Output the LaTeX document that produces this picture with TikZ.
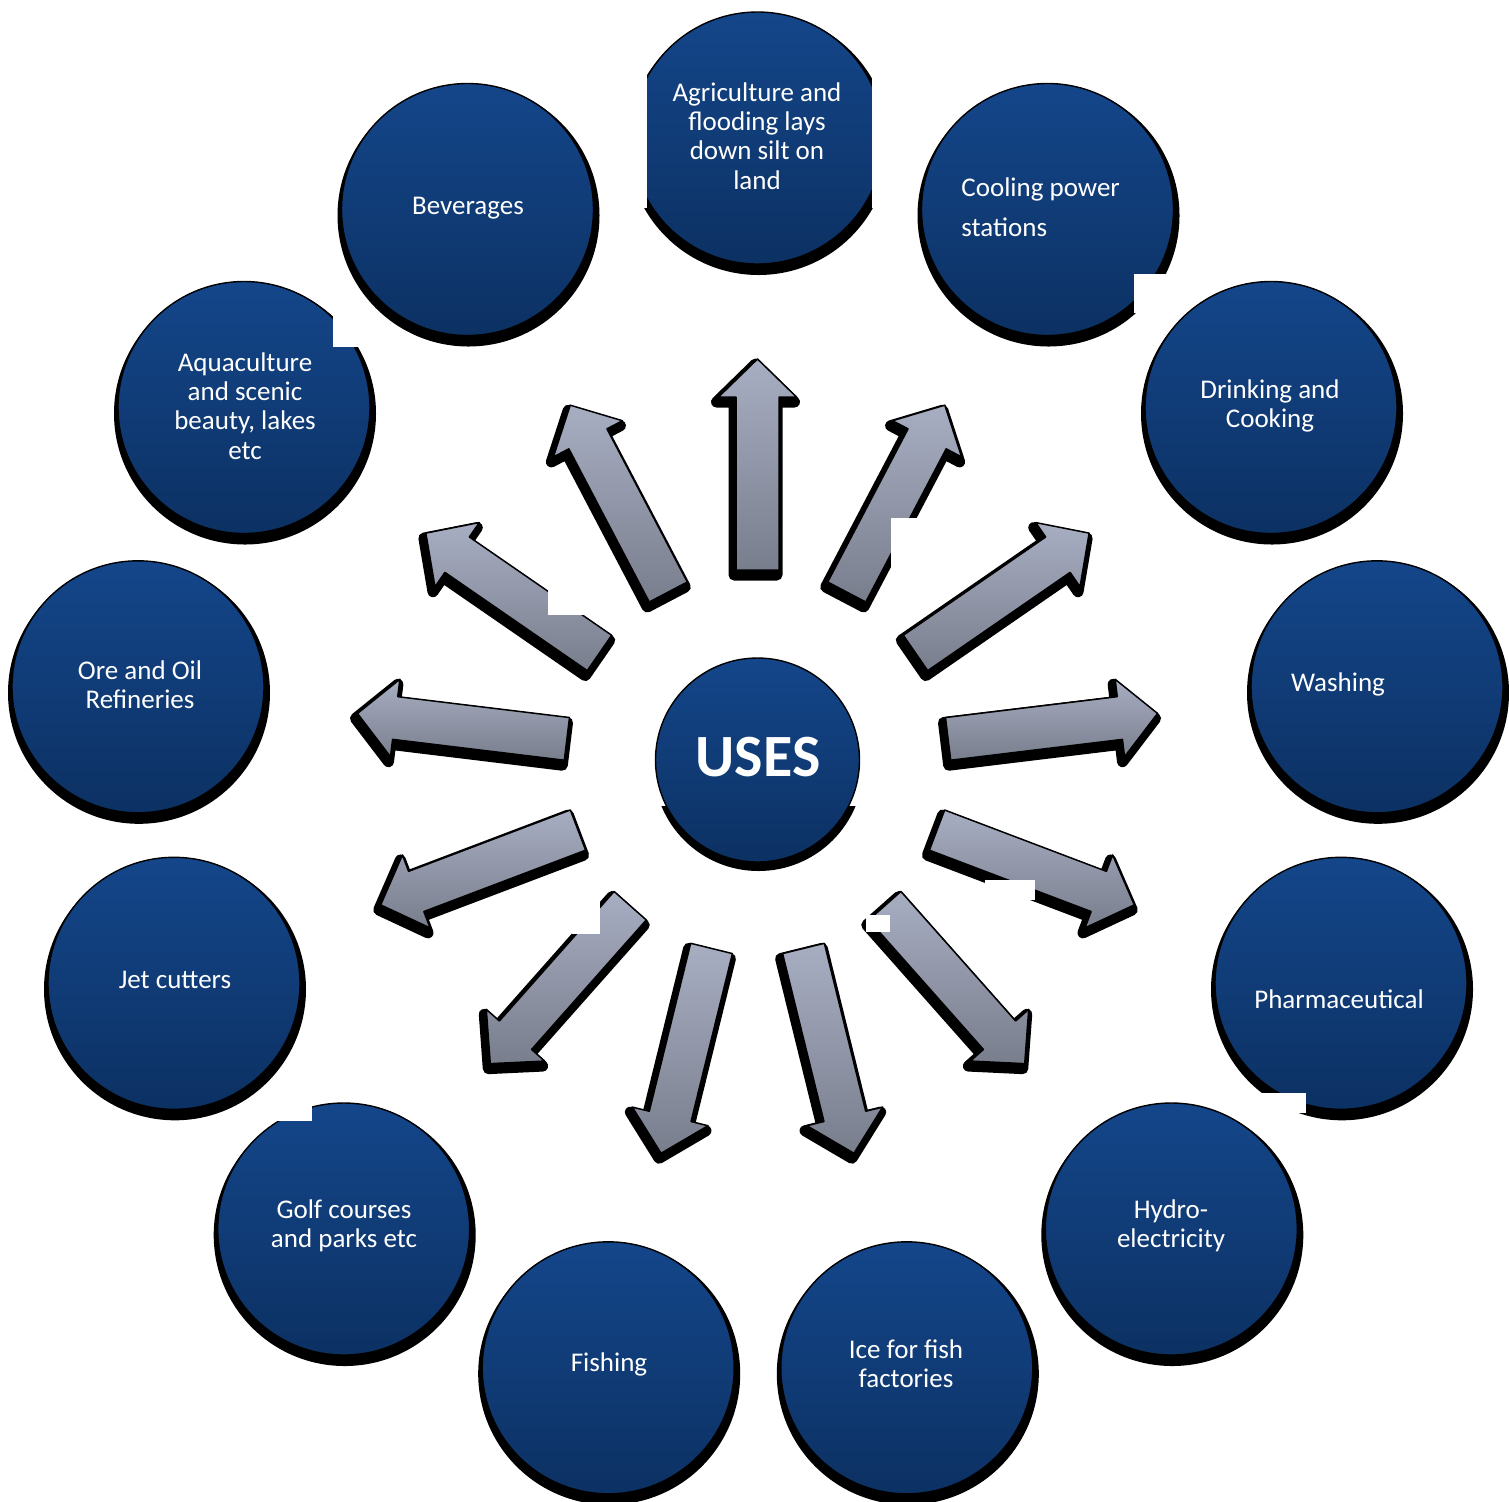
\documentclass[tikz,border=0pt]{standalone}
\usepackage{fontspec}
\setmainfont{Carlito}
\definecolor{cTop}{RGB}{20,70,138}
\definecolor{cBot}{RGB}{12,49,99}
\definecolor{aTop}{RGB}{168,174,194}
\definecolor{aBot}{RGB}{121,126,141}
\tikzset{
  bub/.style={circle, inner sep=0pt, minimum size=126pt, top color=cTop, bottom color=cBot, draw=black, line width=0.7pt},
  hub/.style={bub, minimum size=102pt},
  bubshadow/.style={fill=black},
  lbl/.style={text=white, font=\fontsize{13.5}{14.6}\selectfont, align=center, inner sep=0pt},
  hublbl/.style={text=white, font=\fontsize{30}{36}\selectfont\bfseries, inner sep=0pt},
  arrowshade/.style={top color=aTop, bottom color=aBot, draw=black, line width=0.75pt, line join=round},
  arrowshadow/.style={fill=black, draw=black, line width=5.5pt, line join=round},
  patch/.style={fill=white, draw=none},
}
\begin{document}
\begin{tikzpicture}[x=0.5pt, y=-0.5pt]
\useasboundingbox (0,0) rectangle (1509,1501);
% circle shadows
\foreach \x/\y in {757.5/138, 1047.5/209.5, 1271/407.5, 1377/686.8, 1341/983.3, 1171.3/1229, 906.8/1367.8, 608.2/1367.8, 343.7/1229, 174/983.3, 138/686.8, 244/407.5, 467.5/209.5}
  {\fill[bubshadow] (\x+1,\y+6) circle[radius=131];}
\fill[bubshadow] (758.5,766) circle[radius=105];
\fill[patch] (640,692) rectangle (880,806);
% circles
\node[hub] (uses) at (757.5,760) {};
\node[bub] (agri) at (757.5,138) {};
\node[bub] (cool) at (1047.5,209.5) {};
\node[bub] (drink) at (1271,407.5) {};
\node[bub] (wash) at (1377,686.8) {};
\node[bub] (pharma) at (1341,983.3) {};
\node[bub] (hydro) at (1171.3,1229) {};
\node[bub] (ice) at (906.8,1367.8) {};
\node[bub] (fish) at (608.2,1367.8) {};
\node[bub] (golf) at (343.7,1229) {};
\node[bub] (jet) at (174,983.3) {};
\node[bub] (ore) at (138,686.8) {};
\node[bub] (aqua) at (244,407.5) {};
\node[bub] (bev) at (467.5,209.5) {};
% block arrows
\foreach \k in {0,...,12}{
  \pgfmathsetmacro\ang{90-\k*360/13}
  \begin{scope}[shift={(755.5,767)}, rotate=\ang]
    \path[arrowshadow] (192,-21.5) -- (365,-21.5) -- (365,-39) -- (403,0) -- (365,39) -- (365,21.5) -- (192,21.5) -- cycle;
  \end{scope}
  \begin{scope}[shift={(757.5,762)}, rotate=\ang]
    \path[arrowshade] (192,-21.5) -- (365,-21.5) -- (365,-39) -- (403,0) -- (365,39) -- (365,21.5) -- (192,21.5) -- cycle;
  \end{scope}
}
% white patches
\fill[patch] (612,60) rectangle (647,208);
\fill[patch] (872,60) rectangle (902,208);
\fill[patch] (333,310) rectangle (363,347);
\fill[patch] (1134,274) rectangle (1166,313);
\fill[patch] (548,585) rectangle (592,615);
\fill[patch] (891,518) rectangle (920,569);
\fill[patch] (985,880) rectangle (1035,900);
\fill[patch] (572,898) rectangle (600,934);
\fill[patch] (866,915) rectangle (890,932);
\fill[patch] (255,1095) rectangle (312,1121);
\fill[patch] (1240,1093) rectangle (1306,1113);
% texts
\node[hublbl] (uses-t) at (758,757) {USES};
\node[lbl] (agri-t) at (757,136) {Agriculture and\\flooding lays\\down silt on\\land};
\node[lbl] (bev-t) at (468,208) {Beverages};
\node[lbl, align=left, anchor=west, font=\fontsize{13.5}{20}\selectfont] (cool-t) at (961,207) {Cooling power\\stations};
\node[lbl] (drink-t) at (1270,406) {Drinking and\\Cooking};
\node[lbl] (wash-t) at (1338,684) {Washing};
\node[lbl] (pharma-t) at (1339,999) {Pharmaceutical};
\node[lbl] (hydro-t) at (1171,1226) {Hydro-\\electricity};
\node[lbl] (ice-t) at (906,1364) {Ice for fish\\factories};
\node[lbl] (fish-t) at (609,1364) {Fishing};
\node[lbl] (golf-t) at (344,1226) {Golf courses\\and parks etc};
\node[lbl] (jet-t) at (175,980) {Jet cutters};
\node[lbl] (ore-t) at (140,685) {Ore and Oil\\Refineries};
\node[lbl] (aqua-t) at (245,406) {Aquaculture\\and scenic\\beauty, lakes\\etc};
\end{tikzpicture}
\end{document}
